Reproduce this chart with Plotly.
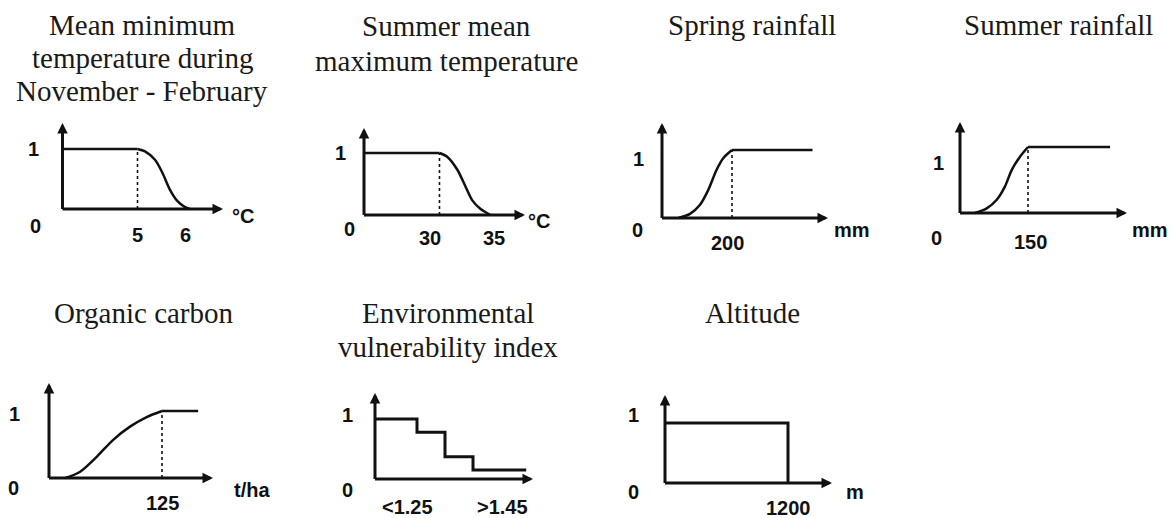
import plotly.graph_objects as go

W, HT = 1176, 518

# ---------------- data ----------------
# 1 Mean minimum temperature (°C): plateau then falling S-curve
tmin_plateau_x = [3.5, 5.0]
tmin_x = [5.0, 5.15, 5.35, 5.5, 5.65, 5.8, 5.95, 6.05]
tmin_y = [1, 0.96, 0.82, 0.6, 0.32, 0.13, 0.03, 0]
tmin_ticks = [5, 6]
tmin_cut = 5

# 2 Summer mean maximum temperature (°C)
tmax_plateau_x = [22.6, 30]
tmax_x = [30, 30.75, 31.75, 32.55, 33.2, 34.0, 35.0]
tmax_y = [1, 0.94, 0.73, 0.46, 0.24, 0.1, 0]
tmax_ticks = [30, 35]
tmax_cut = 30

# 3 Spring rainfall (mm): rising S-curve then plateau
spr_x = [47, 80, 108, 132, 156, 175, 200]
spr_y = [0, 0.06, 0.19, 0.41, 0.71, 0.88, 1]
spr_plateau_x = [200, 430]
spr_ticks = [200]
spr_cut = 200

# 4 Summer rainfall (mm)
sumr_x = [33, 59, 81, 99, 114, 132, 150]
sumr_y = [0, 0.07, 0.2, 0.4, 0.65, 0.85, 1]
sumr_plateau_x = [150, 331]
sumr_ticks = [150]
sumr_cut = 150

# 5 Organic carbon (t/ha)
oc_x = [18, 34, 53, 71, 90, 108, 125]
oc_y = [0, 0.09, 0.32, 0.57, 0.77, 0.91, 1]
oc_plateau_x = [125, 165]
oc_ticks = [125]
oc_cut = 125

# 6 Environmental vulnerability index (step function)
evi_x = [1.1, 1.25, 1.35, 1.45, 1.64]
evi_y = [1.0, 0.78, 0.37, 0.15, 0.15]
evi_ticks = [1.25, 1.45]
evi_ticktext = ["<1.25", ">1.45"]

# 7 Altitude (m)
alt_x = [0, 1200, 1200]
alt_y = [1, 1, 0]
alt_ticks = [1200]

# ---------------- panel layout (pixel geometry) ----------------
panels = [
    dict(title=["Mean minimum", "temperature during", "November - February"], tx=142, tb=[35, 68, 101],
         ox=62.5, oy=209, H=60, top=123, tip=223, x0=3.5, sx=50,
         x=tmin_x, y=tmin_y, plateau=tmin_plateau_x, shape="spline", lw=2.5, cut=tmin_cut,
         ticks=tmin_ticks, ticktext=[str(v) for v in tmin_ticks], tshift=[(0, -26), (-2, -26)],
         one=(-29.5, 0), zero=(-27.5, -17), unit="°C", uoff=(20, -7)),
    dict(title=["Summer mean", "maximum temperature"], tx=446, tb=[36, 71],
         ox=364, oy=215, H=62, top=128, tip=525, x0=22.6, sx=10.2,
         x=tmax_x, y=tmax_y, plateau=tmax_plateau_x, shape="spline", lw=2.5, cut=tmax_cut,
         ticks=tmax_ticks, ticktext=[str(v) for v in tmax_ticks], tshift=[(-9, -23), (4, -23)],
         one=(-24, 0), zero=(-15, -14), unit="°C", uoff=(14, -6)),
    dict(title=["Spring rainfall"], tx=752, tb=[35],
         ox=662, oy=218, H=68, top=123, tip=828, x0=0, sx=0.35,
         x=spr_x, y=spr_y, plateau=spr_plateau_x, shape="spline", lw=2.5, cut=spr_cut,
         ticks=spr_ticks, ticktext=[str(v) for v in spr_ticks], tshift=[(-4, -25)],
         one=(-23, -9), zero=(-24, -12), unit="mm", uoff=(24, -12)),
    dict(title=["Summer rainfall"], tx=1058, tb=[35],
         ox=960, oy=213, H=66, top=122, tip=1127, x0=0, sx=68 / 150,
         x=sumr_x, y=sumr_y, plateau=sumr_plateau_x, shape="spline", lw=2.5, cut=sumr_cut,
         ticks=sumr_ticks, ticktext=[str(v) for v in sumr_ticks], tshift=[(2, -29)],
         one=(-21, -16), zero=(-23, -25), unit="mm", uoff=(23, -17)),
    dict(title=["Organic carbon"], tx=144, tb=[323],
         ox=49, oy=478, H=67, top=383, tip=213, x0=0, sx=113 / 125,
         x=oc_x, y=oc_y, plateau=oc_plateau_x, shape="spline", lw=2.5, cut=oc_cut,
         ticks=oc_ticks, ticktext=[str(v) for v in oc_ticks], tshift=[(0, -25)],
         one=(-35, -3), zero=(-36, -10), unit="t/ha", uoff=(39, -12)),
    dict(title=["Environmental", "vulnerability index"], tx=448, tb=[323, 357],
         ox=375, oy=479, H=60, top=393, tip=533, x0=1.1, sx=280,
         x=evi_x, y=evi_y, plateau=None, shape="hv", lw=3, cut=None,
         ticks=evi_ticks, ticktext=evi_ticktext, tshift=[(-10, -28), (29, -28)],
         one=(-28, 4), zero=(-28, -11), unit=None, uoff=(0, 0)),
    dict(title=["Altitude"], tx=752, tb=[323],
         ox=665, oy=483, H=60, top=395, tip=832, x0=0, sx=123 / 1200,
         x=alt_x, y=alt_y, plateau=None, shape="linear", lw=3, cut=None,
         ticks=alt_ticks, ticktext=[str(v) for v in alt_ticks], tshift=[(0, -25)],
         one=(-32, 8), zero=(-32, -9), unit="m", uoff=(23, -9)),
]

INK = "#111111"
TITLE_FONT = dict(family="Liberation Serif, Times New Roman, serif", size=29, color="#1a1a1a")
LABEL_FONT = dict(family="Liberation Sans, Arial, sans-serif", size=20, color=INK, weight="bold")

fig = go.Figure()
annotations = []
layout_axes = {}

for i, p in enumerate(panels):
    n = i + 1
    sfx = "" if n == 1 else str(n)
    xa, ya = "x" + sfx, "y" + sfx
    L, R = p["ox"] - 14, p["tip"] + 14
    T, B = p["top"] - 14, p["oy"] + 14
    xr = [p["x0"] + (L - p["ox"]) / p["sx"], p["x0"] + (R - p["ox"]) / p["sx"]]
    yr = [(p["oy"] - B) / p["H"], (p["oy"] - T) / p["H"]]
    layout_axes["xaxis" + sfx] = dict(domain=[L / W, R / W], range=xr, visible=False,
                                      anchor=ya, fixedrange=True)
    layout_axes["yaxis" + sfx] = dict(domain=[1 - B / HT, 1 - T / HT], range=yr, visible=False,
                                      anchor=xa, fixedrange=True)

    # plateau at membership 1
    if p["plateau"] is not None:
        fig.add_trace(go.Scatter(x=p["plateau"], y=[1] * len(p["plateau"]), mode="lines",
                                 line=dict(color=INK, width=p["lw"]),
                                 xaxis=xa, yaxis=ya, showlegend=False, hoverinfo="skip"))
    # membership curve
    line = dict(color=INK, width=p["lw"], shape=p["shape"])
    if p["shape"] == "spline":
        line["smoothing"] = 0.8
    fig.add_trace(go.Scatter(x=p["x"], y=p["y"], mode="lines", line=line,
                             xaxis=xa, yaxis=ya, showlegend=False, hoverinfo="skip"))
    # dotted cut line
    if p["cut"] is not None:
        fig.add_trace(go.Scatter(x=[p["cut"], p["cut"]], y=[0, 1], mode="lines",
                                 line=dict(color=INK, width=1.6, dash="dot"),
                                 xaxis=xa, yaxis=ya, showlegend=False, hoverinfo="skip"))

    # axes with arrow heads
    xtip = p["x0"] + (p["tip"] - p["ox"]) / p["sx"]
    ytop = (p["oy"] - p["top"]) / p["H"]
    arrow = dict(text="", showarrow=True, arrowhead=2, arrowsize=0.7, arrowwidth=3,
                 arrowcolor=INK, xref=xa, yref=ya, axref=xa, ayref=ya)
    annotations.append(dict(arrow, x=xtip, y=0, ax=p["x0"] - 1.5 / p["sx"], ay=0))
    annotations.append(dict(arrow, x=p["x0"], y=ytop, ax=p["x0"], ay=-1.5 / p["H"]))

    # y labels "1" and "0"
    annotations.append(dict(text="1", x=p["x0"], y=1, xref=xa, yref=ya, showarrow=False,
                            xshift=p["one"][0], yshift=p["one"][1], font=LABEL_FONT))
    annotations.append(dict(text="0", x=p["x0"], y=0, xref=xa, yref=ya, showarrow=False,
                            xshift=p["zero"][0], yshift=p["zero"][1], font=LABEL_FONT))
    # x tick labels
    for tv, tt, (dx, dy) in zip(p["ticks"], p["ticktext"], p["tshift"]):
        annotations.append(dict(text=tt, x=tv, y=0, xref=xa, yref=ya, showarrow=False,
                                xshift=dx, yshift=dy, font=LABEL_FONT))
    # unit
    if p["unit"]:
        annotations.append(dict(text=p["unit"], x=xtip, y=0, xref=xa, yref=ya, showarrow=False,
                                xshift=p["uoff"][0], yshift=p["uoff"][1], font=LABEL_FONT))
    # title lines
    for line_txt, base in zip(p["title"], p["tb"]):
        cy = base - 0.34 * TITLE_FONT["size"]
        annotations.append(dict(text=line_txt, x=p["tx"] / W, y=1 - cy / HT, xref="paper", yref="paper",
                                showarrow=False, xanchor="center", yanchor="middle", font=TITLE_FONT))

fig.update_layout(
    width=W, height=HT,
    margin=dict(l=0, r=0, t=0, b=0),
    paper_bgcolor="white", plot_bgcolor="rgba(0,0,0,0)",
    showlegend=False,
    annotations=annotations,
    **layout_axes,
)

fig.write_html("out.html", config={"displayModeBar": False},
               post_script="document.body.style.margin='0';document.body.style.padding='0';")
